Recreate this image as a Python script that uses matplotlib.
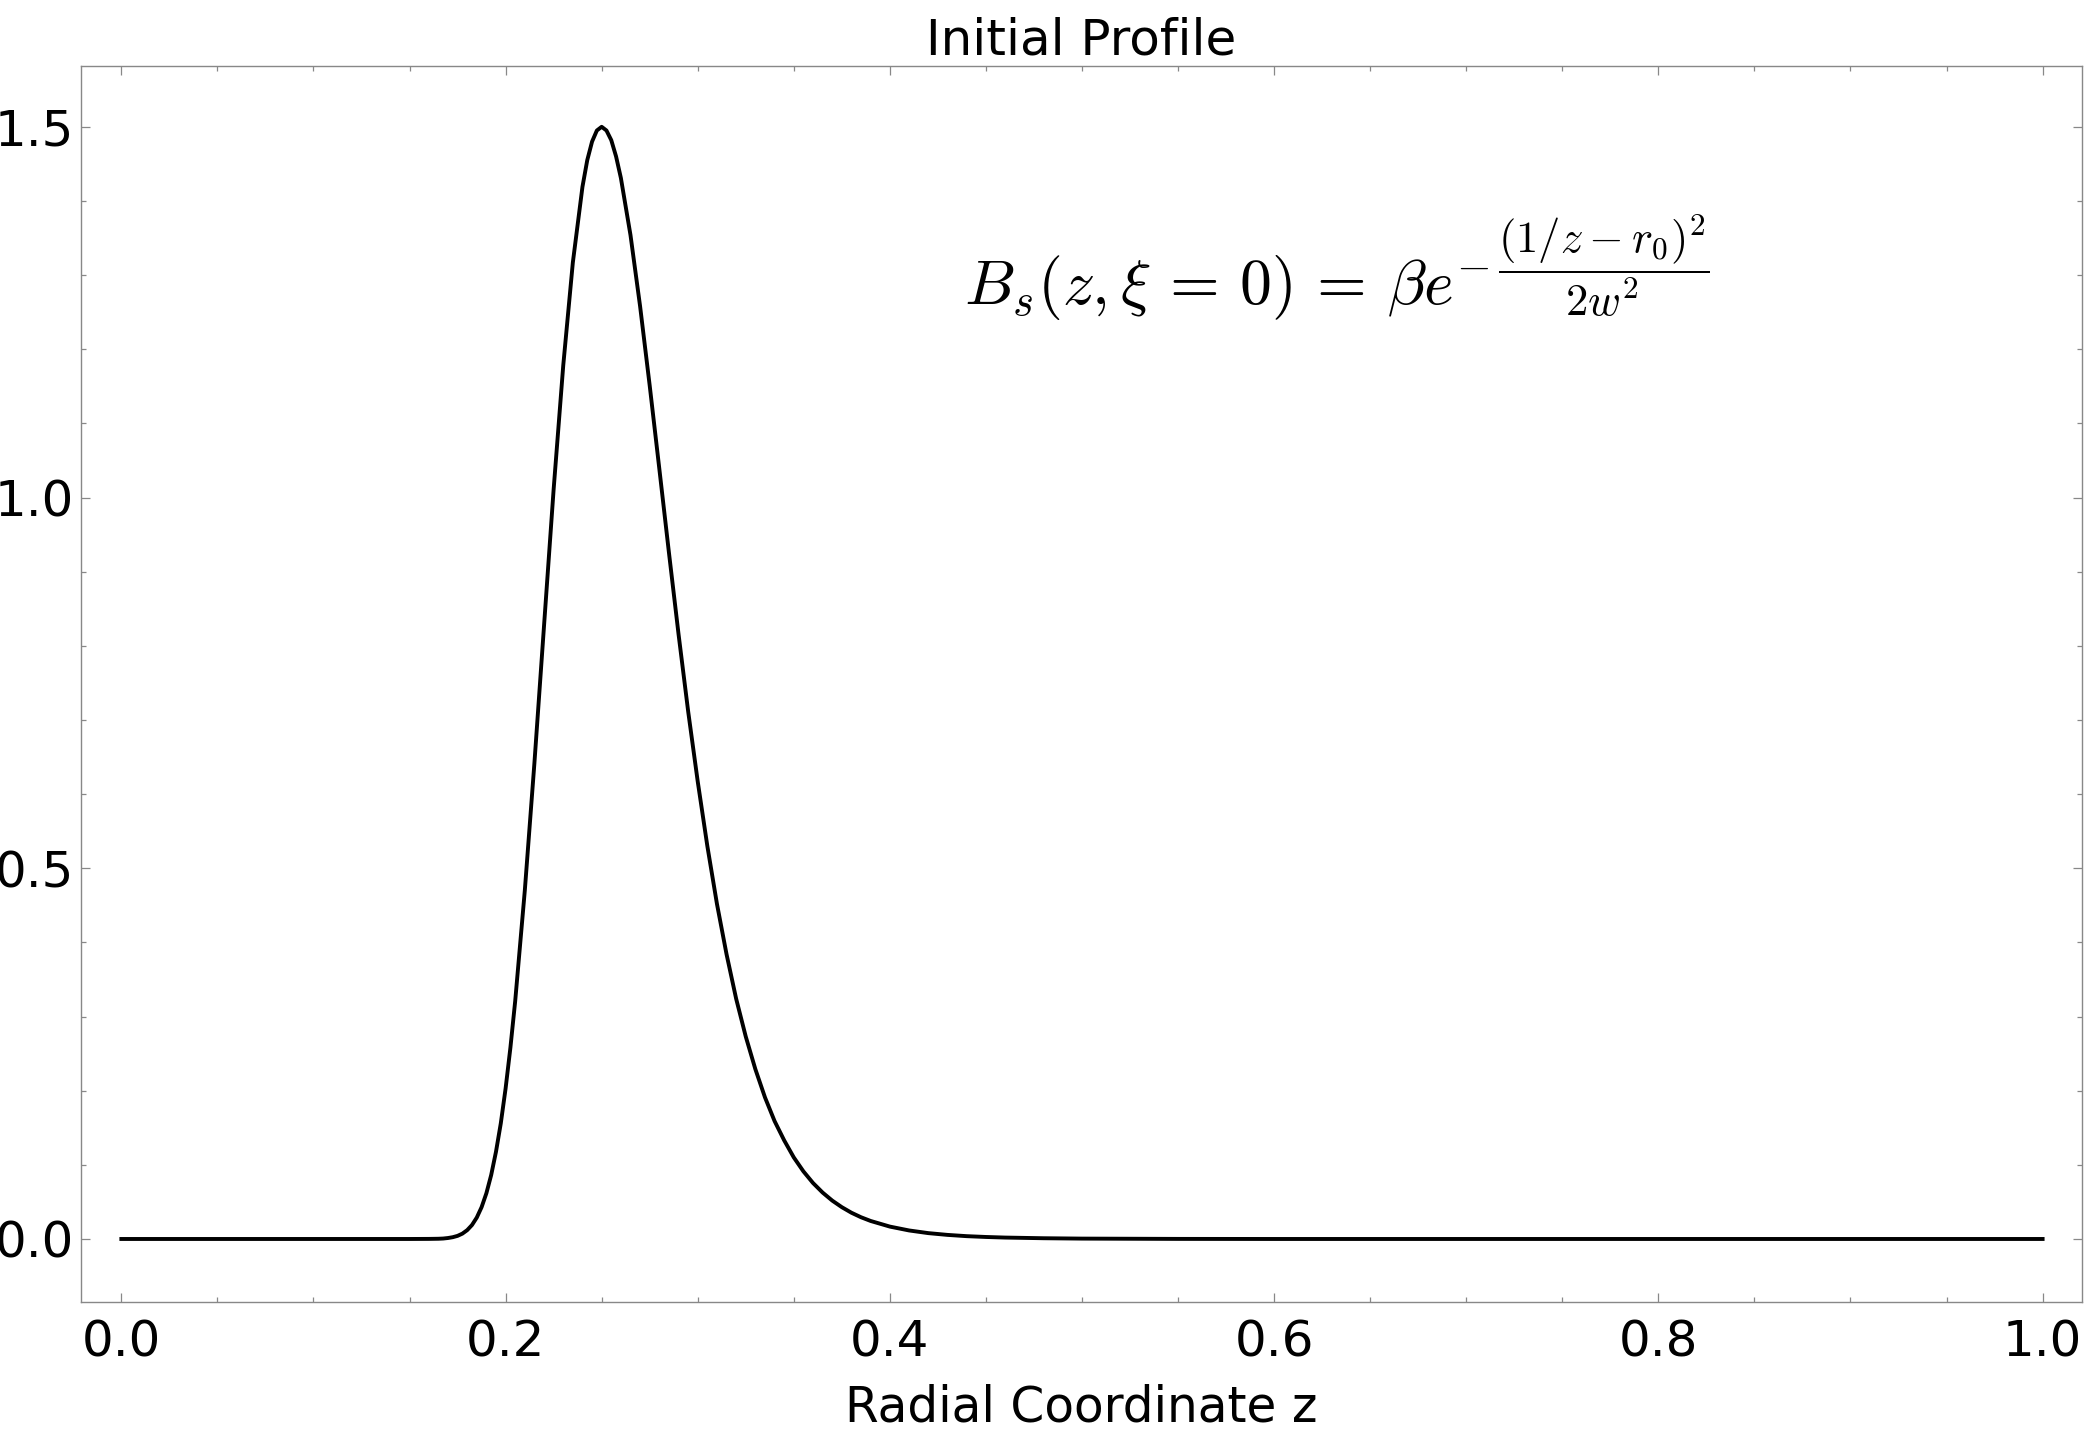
"""Initial profile of B_s along the radial coordinate"""
import numpy as np
import matplotlib
matplotlib.use('Agg')
import matplotlib.pyplot as plt
from matplotlib.ticker import MultipleLocator

plt.rcParams['font.family'] = ['DejaVu Sans']
plt.rcParams['mathtext.fontset'] = 'cm'

# curve (z, B_s)
z_vals = [0.0, 0.05, 0.10, 0.15, 0.16, 0.165, 0.1675, 0.17, 0.1725, 0.175,
          0.1775, 0.18, 0.1825, 0.185, 0.1875, 0.19, 0.1925, 0.195, 0.1975, 0.20,
          0.2025, 0.205, 0.21, 0.215, 0.22, 0.225, 0.23, 0.235, 0.24, 0.2425,
          0.245, 0.2475, 0.25, 0.2525, 0.255, 0.2575, 0.26, 0.265, 0.27, 0.275,
          0.28, 0.285, 0.29, 0.295, 0.30, 0.305, 0.31, 0.315, 0.32, 0.325,
          0.33, 0.335, 0.34, 0.345, 0.35, 0.355, 0.36, 0.365, 0.37, 0.375,
          0.38, 0.385, 0.39, 0.40, 0.41, 0.42, 0.43, 0.44, 0.45, 0.46,
          0.48, 0.50, 0.55, 0.60, 0.70, 0.80, 0.90, 1.0]
b_vals = [0.0, 0.0, 0.0, 0.0, 0.0001, 0.0003, 0.0006, 0.0013, 0.0024, 0.0042,
          0.0072, 0.0119, 0.0188, 0.0289, 0.0429, 0.0617, 0.0863, 0.1177, 0.156, 0.203,
          0.258, 0.321, 0.470, 0.642, 0.827, 1.011, 1.178, 1.317, 1.419, 1.455,
          1.480, 1.495, 1.500, 1.495, 1.482, 1.460, 1.431, 1.354, 1.258, 1.151,
          1.039, 0.926, 0.816, 0.712, 0.617, 0.530, 0.452, 0.384, 0.324, 0.273,
          0.229, 0.191, 0.159, 0.133, 0.110, 0.0912, 0.0755, 0.0626, 0.0518, 0.0429,
          0.0354, 0.0293, 0.0243, 0.0167, 0.0115, 0.0079, 0.0055, 0.0038, 0.0027, 0.0019,
          0.0010, 0.0005, 0.0001, 0.0, 0.0, 0.0, 0.0, 0.0]

fig = plt.figure(figsize=(20.84, 14.44), dpi=100)
ax = fig.add_axes([81 / 2084, 1 - 1302 / 1444, 2001 / 2084, 1236 / 1444])

ax.plot(z_vals, b_vals, color='black', lw=2.8, solid_joinstyle='round')

ax.set_xlim(-0.021, 1.0205)
ax.set_ylim(-0.085, 1.582)

# Mathematica-like frame: gray spines, inward ticks on all sides
for sp in ax.spines.values():
    sp.set_color('#888888')
    sp.set_linewidth(1.0)
ax.xaxis.set_major_locator(MultipleLocator(0.2))
ax.xaxis.set_minor_locator(MultipleLocator(0.05))
ax.yaxis.set_major_locator(MultipleLocator(0.5))
ax.yaxis.set_minor_locator(MultipleLocator(0.1))
ax.tick_params(which='both', direction='in', top=True, right=True,
               color='#888888', width=0.9, labelsize=36)
ax.tick_params(which='major', length=6.5)
ax.tick_params(which='minor', length=3.6)
ax.tick_params(axis='x', which='major', pad=12)
ax.tick_params(axis='y', which='major', pad=5)

ax.set_title('Initial Profile', fontsize=36, pad=8)
ax.set_xlabel('Radial Coordinate z', fontsize=35, labelpad=12)

ax.text(0.4386, 1.26,
        r'$B_s(z,\xi\,=\,0)\,=\,\beta e^{-\,\dfrac{(1/z-r_0)^2}{2w^2}}$',
        fontsize=46, ha='left', va='baseline')

plt.savefig('out.png', dpi=100)
